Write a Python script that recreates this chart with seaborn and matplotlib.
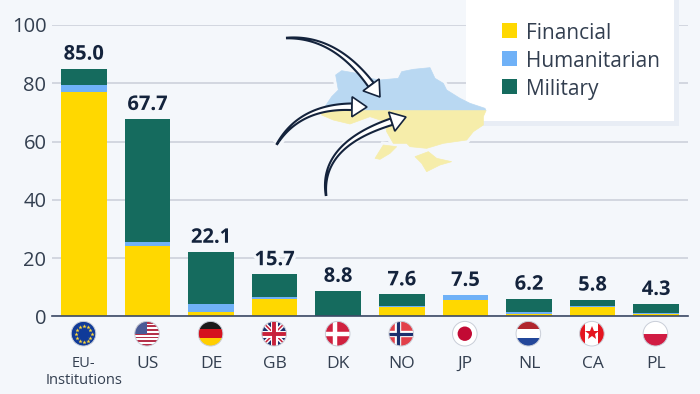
import numpy as np
import matplotlib
matplotlib.use('Agg')
import matplotlib.pyplot as plt
import matplotlib.patheffects as pe
from matplotlib.patches import Circle, Polygon, Rectangle
import seaborn as sns

codes = ['EU', 'US', 'DE', 'GB', 'DK', 'NO', 'JP', 'NL', 'CA', 'PL']
tick_labels = ['EU-\nInstitutions', 'US', 'DE', 'GB', 'DK', 'NO', 'JP', 'NL', 'CA', 'PL']
financial = [77.1, 24.0, 1.4, 5.9, 0.0, 3.1, 5.5, 0.8, 3.1, 0.8]
humanitarian = [2.3, 1.4, 2.8, 0.6, 0.0, 0.4, 1.8, 0.8, 0.3, 0.2]
military = [5.6, 42.3, 17.9, 7.9, 8.7, 4.0, 0.0, 4.4, 2.3, 3.2]
totals = ['85.0', '67.7', '22.1', '15.7', '8.8', '7.6', '7.5', '6.2', '5.8', '4.3']
yticks = [0, 20, 40, 60, 80, 100]

BG = '#f4f7fb'
YEL = '#ffd800'
BLU = '#6fb1f7'
GRN = '#156b5e'
INK = '#14233c'
TXT = '#333f50'

sns.set_style('white')
plt.rcParams['font.family'] = ['Open Sans', 'DejaVu Sans']

fig = plt.figure(figsize=(7, 3.94), dpi=100, facecolor=BG)
ax = fig.add_axes([52/700, (394-316.3)/394, 636/700, 291.3/394], facecolor=BG)

fin = np.array(financial)
hum = fin + np.array(humanitarian)
top = hum + np.array(military)

# stacked by overdrawing, tallest first
sns.barplot(x=codes, y=top, color=GRN, saturation=1, width=0.72, linewidth=0, ax=ax)
sns.barplot(x=codes, y=hum, color=BLU, saturation=1, width=0.72, linewidth=0, ax=ax)
sns.barplot(x=codes, y=fin, color=YEL, saturation=1, width=0.72, linewidth=0, ax=ax)

ax.set_xlim(-0.5, 9.5)
ax.set_ylim(0, 100)
ax.set_yticks(yticks)
ax.set_axisbelow(True)
ax.grid(axis='y', color='#c9ced8', lw=1.1)
ax.grid(axis='x', visible=False)
sns.despine(ax=ax, left=True)
ax.spines['bottom'].set_color('#3c4a66')
ax.spines['bottom'].set_linewidth(1.2)
ax.tick_params(axis='y', length=0, pad=4, labelsize=14.5, labelcolor=TXT)
ax.set_xticks(range(10))
ax.set_xticklabels(tick_labels)
ax.tick_params(axis='x', length=0, pad=28.5, labelsize=12.5, labelcolor=TXT)
ax.get_xticklabels()[0].set_fontsize(10.5)
ax.set_xlabel('')
ax.set_ylabel('')

halo = [pe.withStroke(linewidth=5, foreground=BG)]
for i in range(10):
    ax.annotate(totals[i], (i, top[i]), xytext=(0, 3), textcoords='offset points',
                ha='center', va='bottom', fontsize=14.5, fontweight='bold', color=INK,
                path_effects=halo)

# overlay in pixel coordinates for the decoration
ov = fig.add_axes([0, 0, 1, 1], facecolor='none')
ov.set_xlim(0, 700)
ov.set_ylim(394, 0)
ov.axis('off')

# ukraine map
north = [(165,332),(165,320),(185,290),(205,270),(197,225),(215,212),(260,220),(300,235),(330,240),
         (385,235),(395,215),(430,208),(480,203),(495,235),(520,250),(530,270),(570,295),(600,310),
         (645,325),(648,332)]
south = [(155,332),(648,332),(640,350),(640,375),(610,395),(590,420),(520,430),(470,445),(420,440),
         (410,430),(370,430),(350,395),(345,365),(300,350),(240,372),(190,360),(155,345)]
crimea = [(435,470),(475,455),(500,475),(545,485),(510,495),(470,515),(455,490)]
odesa = [(315,475),(340,435),(380,440),(360,460),(330,478)]

def mp(pts):
    return [(270+a/3, b/3) for a, b in pts]

shapes = [(north, '#b9d8f2'), (south, '#f6edaa'), (crimea, '#f6edaa'), (odesa, '#f6edaa')]
for pts, col in shapes:
    ov.add_patch(Polygon(mp(pts), closed=True, fc=BG, ec=BG, lw=5, zorder=0.5))
for pts, col in shapes:
    ov.add_patch(Polygon(mp(pts), closed=True, fc=col, ec=col, lw=0.5, zorder=3))

def arrow(p0, p1, p2):
    p0, p1, p2 = np.array(p0, float), np.array(p1, float), np.array(p2, float)
    d = (p2-p1) / np.linalg.norm(p2-p1)
    n = np.array([-d[1], d[0]])
    neck = p2 - d*15
    t = np.linspace(0, 1, 40)[:, None]
    c = (1-t)**2*p0 + 2*t*(1-t)*p1 + t**2*neck
    tan = np.gradient(c, axis=0)
    nn = np.c_[-tan[:, 1], tan[:, 0]] / np.linalg.norm(tan, axis=1)[:, None]
    w = 0.3 + 3.0*t
    shaft = np.r_[c+nn*w, (c-nn*w)[::-1]]
    ov.plot(c[:, 0], c[:, 1], color=BG, lw=7, zorder=2, solid_capstyle='butt')
    ov.add_patch(Polygon(shaft, closed=True, fc='white', ec=INK, lw=1.5, zorder=5))
    head = [p2, neck+n*10, neck+n*3.4, neck-n*3.4, neck-n*10]
    ov.add_patch(Polygon(head, closed=True, fc='white', ec=INK, lw=1.2, zorder=6, joinstyle='miter'))

arrow((287, 38), (335, 36), (380, 97))
arrow((277, 144), (300, 106), (367, 107))
arrow((326, 195), (320, 145), (406, 117))

# legend box, the map lies over its corner
ov.add_patch(Rectangle((466, -5), 213, 131, fc='#e8edf5', ec='none', zorder=1))
ov.add_patch(Rectangle((466, -5), 208, 126, fc='white', ec='none', zorder=1.5))
for yy, col, lab in [(30.5, YEL, 'Financial'), (58.5, BLU, 'Humanitarian'), (86.5, GRN, 'Military')]:
    ov.add_patch(Rectangle((502, yy-7.5), 15, 15, fc=col, ec='none', zorder=9))
    ov.text(526.5, yy, lab, fontsize=15, color=TXT, va='center_baseline', ha='left', zorder=9)

# flags
def disc(cx, cy=333.7, r=12.3):
    return Circle((cx, cy), r, transform=ov.transData)

def band(cx, x0, y0, w, h, col, z=10):
    p = Rectangle((cx+x0, 333.7+y0), w, h, fc=col, ec='none', zorder=z)
    ov.add_patch(p)
    p.set_clip_path(disc(cx))

def stroke(cx, x0, y0, x1, y1, col, lw, z=11):
    l, = ov.plot([cx+x0, cx+x1], [333.7+y0, 333.7+y1], color=col, lw=lw, zorder=z, solid_capstyle='butt')
    l.set_clip_path(disc(cx))

xs = [83.5 + 63.55*i for i in range(10)]
R = 13

# EU
band(xs[0], -R, -R, 2*R, 2*R, '#0f3a99')
for a in np.arange(0, 360, 30):
    ov.plot(xs[0]+8*np.cos(np.radians(a)), 333.7+8*np.sin(np.radians(a)), marker='*', ms=3.2,
            color='#ffd83a', mew=0, zorder=11)
# US
band(xs[1], -R, -R, 2*R, 2*R, 'white')
for k in range(7):
    band(xs[1], -R, -R+1+k*3.7, 2*R, 1.9, '#b5314a', 11)
band(xs[1], -R, -R, 13, 13, '#4a5a96', 12)
# DE
band(xs[2], -R, -R, 2*R, 2*R/3, '#1a1a1a')
band(xs[2], -R, -R+2*R/3, 2*R, 2*R/3, '#d5121e')
band(xs[2], -R, -R+4*R/3, 2*R, 2*R/3, '#ffce00')
# GB
band(xs[3], -R, -R, 2*R, 2*R, '#1c2f6e')
stroke(xs[3], -R, -R, R, R, 'white', 3.2)
stroke(xs[3], -R, R, R, -R, 'white', 3.2)
stroke(xs[3], -R, -R, R, R, '#c8213a', 1.1)
stroke(xs[3], -R, R, R, -R, '#c8213a', 1.1)
stroke(xs[3], 0, -R, 0, R, 'white', 5, 12)
stroke(xs[3], -R, 0, R, 0, 'white', 5, 12)
stroke(xs[3], 0, -R, 0, R, '#c8213a', 2.8, 13)
stroke(xs[3], -R, 0, R, 0, '#c8213a', 2.8, 13)
# DK
band(xs[4], -R, -R, 2*R, 2*R, '#d0213f')
stroke(xs[4], -3, -R, -3, R, 'white', 3.2)
stroke(xs[4], -R, 0, R, 0, 'white', 3.2)
# NO
band(xs[5], -R, -R, 2*R, 2*R, '#e2404a')
stroke(xs[5], -3, -R, -3, R, 'white', 4.6)
stroke(xs[5], -R, 0, R, 0, 'white', 4.6)
stroke(xs[5], -3, -R, -3, R, '#1c2f6e', 2.3, 12)
stroke(xs[5], -R, 0, R, 0, '#1c2f6e', 2.3, 12)
# JP
band(xs[6], -R, -R, 2*R, 2*R, 'white')
ov.add_patch(Circle((xs[6], 333.7), 7.2, fc='#c20a34', ec='none', zorder=11))
# NL
band(xs[7], -R, -R, 2*R, 2*R/3, '#b0262e')
band(xs[7], -R, -R+2*R/3, 2*R, 2*R/3, 'white')
band(xs[7], -R, -R+4*R/3, 2*R, 2*R/3, '#23479a')
# CA
band(xs[8], -R, -R, 2*R, 2*R, 'white')
band(xs[8], -R, -R, 6.5, 2*R, '#e5141f', 11)
band(xs[8], R-6.5, -R, 6.5, 2*R, '#e5141f', 11)
ov.plot(xs[8], 333, marker='*', ms=10, color='#e5141f', mew=0, zorder=12)
# PL
band(xs[9], -R, -R, 2*R, R, 'white')
band(xs[9], -R, 0, 2*R, R, '#d11c43')

for x in xs:
    ov.add_patch(Circle((x, 333.7), 12.3, fc='none', ec='#c9ced8', lw=0.7, zorder=14))

plt.savefig('out.png', dpi=100, facecolor=BG)
